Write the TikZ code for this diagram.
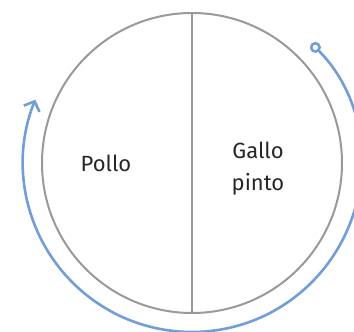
\documentclass[tikz,border=0pt]{standalone}
\usepackage{fontspec}
\setmainfont{Fira Sans}
\usetikzlibrary{arrows.meta}
\definecolor{plategray}{HTML}{999999}
\definecolor{cycleblue}{HTML}{739DD8}

\begin{document}
\begin{tikzpicture}[x=1pt, y=1pt,
                    plate/.style={circle, draw=plategray, line width=2pt, minimum size=300pt, inner sep=0pt},
                    food/.style={align=center, text=black!85, font=\fontsize{22}{32}\selectfont},
                    cycle/.style={draw=cycleblue, line width=2.6pt, {Circle[open, length=11pt, width=11pt]}-{Straight Barb[length=8pt, width=17pt]}}
                ]
                \useasboundingbox (-192,-169) rectangle (162,163);
                \node[plate] (plate) at (0,0) {};
                \draw[plategray, line width=2pt] (plate.north) -- (plate.south);
                \node[food] (pollo) at (-86,0) {Pollo};
                \node[food] (gallo) at (66,-6) {Gallo\\pinto};
                % arrow round the plate
                \coordinate (start) at ([shift={(45:169)}]plate.center);
                \draw[cycle] (start) arc[start angle=45, end angle=-202, radius=169];
                \end{tikzpicture}
\end{document}
